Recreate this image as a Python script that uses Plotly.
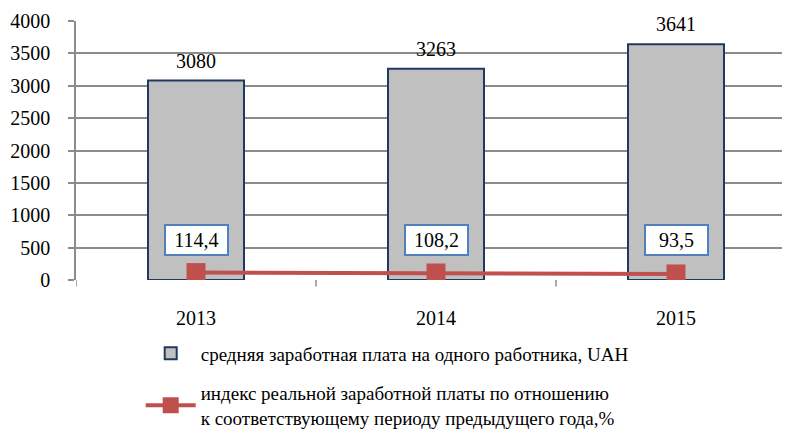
import plotly.graph_objects as go

years = ["2013", "2014", "2015"]
salary = [3080, 3263, 3641]
index_vals = [114.4, 108.2, 93.5]
index_labels = ["114,4", "108,2", "93,5"]
y_ticks = [0, 500, 1000, 1500, 2000, 2500, 3000, 3500, 4000]

FONT = "Liberation Serif, Times New Roman, serif"
FS = 20

fig = go.Figure()
fig.add_trace(go.Bar(
    x=years, y=salary, width=0.4,
    name="средняя заработная плата на одного работника, UAH",
    legendgroup="a",
    marker=dict(color="#c0c0c0", line=dict(color="#1f3a60", width=2)),
))
fig.add_trace(go.Scatter(
    x=years, y=index_vals, mode="lines+markers",
    name="индекс реальной заработной платы по отношению<br>к соответствующему периоду предыдущего года,%",
    legendgroup="b",
    line=dict(color="#c0504d", width=4),
    marker=dict(symbol="square", size=19, color="#c0504d"),
))

for i, v in enumerate(salary):
    fig.add_annotation(
        x=i, y=v, text=str(v), showarrow=False, yanchor="bottom", yshift=7,
        font=dict(family=FONT, size=FS, color="#000"),
    )

for i, lab in enumerate(index_labels):
    fig.add_annotation(
        x=i, y=620, text=lab, showarrow=False,
        font=dict(family=FONT, size=FS, color="#000"),
        bgcolor="#ffffff", bordercolor="#4f81bd", borderwidth=2,
        borderpad=3, width=55,
    )

fig.update_layout(
    width=782, height=426,
    margin=dict(l=68, r=0, t=13, b=154, autoexpand=False),
    paper_bgcolor="#ffffff", plot_bgcolor="#ffffff",
    font=dict(family=FONT, size=FS, color="#000"),
    showlegend=True,
    legend=dict(
        xref="container", yref="container",
        x=0.1697, y=0.2337, xanchor="left", yanchor="top",
        font=dict(family=FONT, size=19, color="#000"),
        itemwidth=50, tracegroupgap=12, traceorder="grouped",
        bgcolor="rgba(0,0,0,0)",
    ),
    bargap=0.6,
)
fig.update_xaxes(
    range=[-0.5, 2.475], type="category", automargin=False,
    showline=False, showgrid=False,
    ticks="", tickfont=dict(family=FONT, size=FS, color="#000"),
    ticklabelstandoff=24,
)
fig.update_yaxes(
    range=[0, 4000], tickvals=y_ticks, automargin=False,
    showgrid=True, gridcolor="#8c8c8c", gridwidth=1.5,
    showline=True, linecolor="#8c8c8c", linewidth=1.5,
    ticks="outside", ticklen=6, tickcolor="#8c8c8c", tickwidth=1.5,
    tickfont=dict(family=FONT, size=FS, color="#000"),
    ticklabelstandoff=14,
    zeroline=False,
)
for xb in [-0.5, 0.5, 1.5]:
    fig.add_shape(type="line", xref="x", yref="paper", x0=xb, x1=xb, y0=0, y1=-0.025,
                  line=dict(color="#8c8c8c", width=1.5))

fig.write_html("out.html")
